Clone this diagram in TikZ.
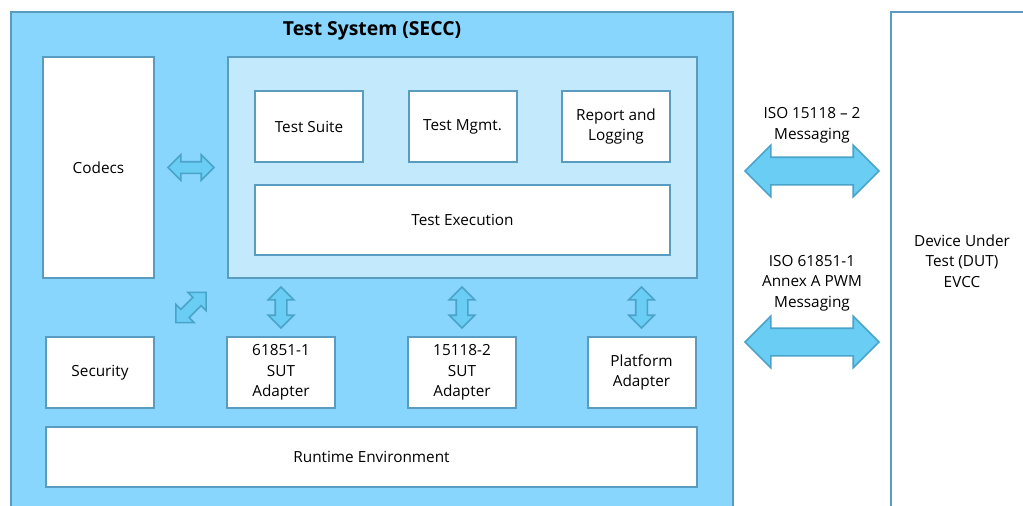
\documentclass[tikz,border=0pt]{standalone}
\usepackage{fontspec}
\setmainfont{Open Sans}
\usepackage{xcolor}
\usetikzlibrary{calc, positioning, shapes.arrows}

\definecolor{secc}{HTML}{88D5FD}
\definecolor{corefill}{HTML}{C3E9FD}
\definecolor{edge}{HTML}{5A9CC0}
\definecolor{arrfill}{HTML}{6ACDF3}
\definecolor{arredge}{HTML}{4AA3C8}

\tikzset{
    blk/.style={rectangle, draw=edge, fill=white, line width=1.5pt, align=center, inner sep=0pt,
        font=\fontsize{11.5}{15.5}\selectfont},
    smallbox/.style={blk, minimum width=81pt, minimum height=53.25pt},
    darrow/.style={double arrow, draw=arredge, fill=arrfill, line width=1.2pt, inner sep=0pt,
        double arrow head extend=5.25pt, inner ysep=3.75pt, minimum width=18pt},
    bigarrow/.style={darrow, double arrow head extend=9pt, inner ysep=9.75pt, minimum width=37.5pt,
        minimum height=100.5pt},
    msg/.style={align=center, font=\fontsize{11.5}{15.5}\selectfont}
}

\begin{document}
\begin{tikzpicture}[x=0.75pt, y=-0.75pt]
    \useasboundingbox (0,0) rectangle (1023,506);
    \begin{scope}
    \clip (0,0) rectangle (1023,506);
    \node[blk, fill=secc, minimum width=541.5pt, minimum height=373.5pt] (secc) at (372,261) {};
    \node[blk, minimum width=106.5pt, minimum height=373.5pt] (dut) at (962,261) {Device Under\\Test (DUT)\\EVCC};
    \end{scope}
    \node[font=\fontsize{14.5}{17}\selectfont\bfseries] (title) at (372,31) {Test System (SECC)};

    \node[blk, minimum width=83.25pt, minimum height=165.75pt] (codecs) at (98.5,167.5) {Codecs};
    \node[blk, fill=corefill, minimum width=351.75pt, minimum height=165.75pt] (core) at (462.5,167.5) {};
    \node[smallbox] (suite) at (309,126.5) {Test Suite};
    \node[smallbox] (mgmt) at (462.5,126.5) {Test Mgmt.};
    \node[smallbox] (report) at (616,126.5) {Report and\\Logging};
    \node[blk, minimum width=311.25pt, minimum height=52.5pt] (exec) at (462.5,220) {Test Execution};

    \node[smallbox] (security) at (100,372.5) {Security};
    \node[smallbox] (sutiec) at (281,372.5) {61851-1\\SUT\\Adapter};
    \node[smallbox] (sutiso) at (462,372.5) {15118-2\\SUT\\Adapter};
    \node[smallbox] (platform) at (641.5,372.5) {Platform\\Adapter};
    \node[blk, minimum width=488.25pt, minimum height=45pt] (runtime) at (371.5,457) {Runtime Environment};

    % links inside the test system
    \node[darrow, minimum height=34.5pt] (acodecs) at ($(codecs.east)!0.5!(core.west)$) {};
    \node[darrow, minimum height=32pt, rotate=45] (asec) at ($(security.north east)!0.5!(core.south west)$) {};
    \node[darrow, minimum height=30.75pt, rotate=90] (aiec) at (sutiec |- {$(core.south)!0.5!(sutiec.north)$}) {};
    \node[darrow, minimum height=30.75pt, rotate=90] (aiso) at (sutiso |- {$(core.south)!0.5!(sutiso.north)$}) {};
    \node[darrow, minimum height=30.75pt, rotate=90] (aplat) at (platform |- {$(core.south)!0.5!(platform.north)$}) {};

    % messaging to the DUT
    \coordinate (gap) at ($(secc.east)!0.5!(dut.west)$);
    \node[bigarrow] (aiso2) at (gap |- 0,171) {};
    \node[bigarrow] (apwm) at (gap |- 0,342) {};
    \node[msg] (liso) at (gap |- 0,125) {ISO 15118 -- 2\\Messaging};
    \node[msg] (lpwm) at (gap |- 0,283) {ISO 61851-1\\Annex A PWM\\Messaging};
\end{tikzpicture}
\end{document}
